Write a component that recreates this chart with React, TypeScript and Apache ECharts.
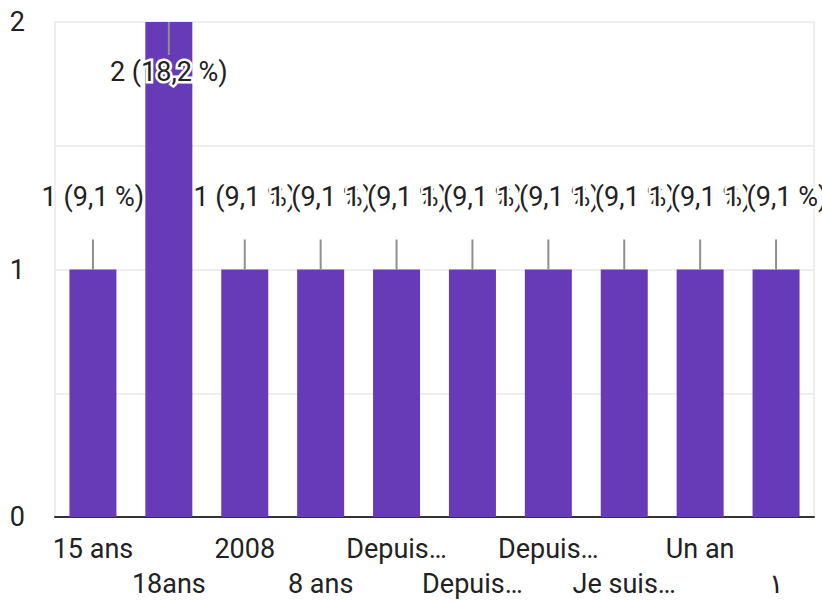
import React, { useEffect, useRef } from "react";
import * as echarts from "echarts";

const categories = ["15 ans", "18ans", "2008", "8 ans", "Depuis…", "Depuis…", "Depuis…", "Je suis…", "Un an", "١"];
const values = [1, 2, 1, 1, 1, 1, 1, 1, 1, 1];
const percents = ["9,1", "18,2", "9,1", "9,1", "9,1", "9,1", "9,1", "9,1", "9,1", "9,1"];
const yMax = 2;

export default function App() {
  const ref = useRef<HTMLDivElement>(null);
  useEffect(() => {
    if (!ref.current) return;
    const chart = echarts.init(ref.current, null, { renderer: "svg" });
    const font = "Roboto, 'Noto Sans', sans-serif";
    chart.setOption({
      animation: false,
      grid: {
        left: 55,
        right: 8,
        top: 22,
        bottom: 86,
        show: true,
        borderColor: "#eeeeee",
        borderWidth: 2,
      },
      xAxis: {
        type: "category",
        data: categories,
        axisTick: { show: false },
        axisLine: { lineStyle: { color: "#333333", width: 2 } },
        axisLabel: {
          interval: 0,
          color: "#222222",
          fontSize: 27,
          fontFamily: font,
          lineHeight: 35,
          margin: 14,
          formatter: (v: string, i: number) => (i % 2 === 1 ? "\n" + v : v),
        },
      },
      yAxis: {
        type: "value",
        min: 0,
        max: yMax,
        interval: 0.5,
        axisLine: { show: false },
        axisTick: { show: false },
        splitLine: { lineStyle: { color: "#eeeeee", width: 2 } },
        axisLabel: {
          color: "#222222",
          fontSize: 27,
          fontFamily: font,
          margin: 30,
          formatter: (v: number) => (Number.isInteger(v) ? String(v) : ""),
        },
      },
      series: [
        {
          type: "bar",
          data: values.map((v) => ({
            value: v,
            label:
              v >= yMax
                ? { position: "insideTop", distance: 36 }
                : { position: "top", distance: 59 },
          })),
          barWidth: 47,
          itemStyle: { color: "#673ab7" },
          z: 2,
          label: {
            show: true,
            color: "#222222",
            fontSize: 27,
            fontFamily: font,
            textBorderColor: "#ffffff",
            textBorderWidth: 5,
            formatter: (p: any) => `${p.value} (${percents[p.dataIndex]} %)`,
          },
        },
        {
          type: "custom",
          z: 3,
          silent: true,
          data: values.map((v, i) => [i, v]),
          renderItem: (params: any, api: any) => {
            const pt = api.coord([api.value(0), api.value(1)]);
            const top = params.coordSys.y;
            const down = pt[1] - top < 40;
            const y2 = down ? pt[1] + 33 : pt[1] - 30;
            return {
              type: "line",
              shape: { x1: pt[0], y1: pt[1], x2: pt[0], y2 },
              style: { stroke: "#8f8f8f", lineWidth: 2 },
            };
          },
        },
      ],
    });
    return () => chart.dispose();
  }, []);
  return <div ref={ref} style={{ width: 822, height: 603, position: "absolute", left: 0, top: 0 }} />;
}
